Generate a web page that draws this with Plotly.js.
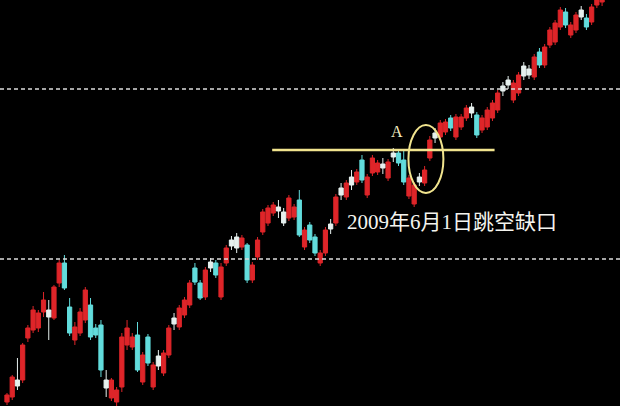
<!DOCTYPE html>
<html>
<head>
<meta charset="utf-8">
<script src="https://cdn.plot.ly/plotly-3.0.1.min.js"></script>
<style>html,body{margin:0;padding:0;background:#000;}#chart{width:620px;height:406px;}</style>
</head>
<body>
<div id="chart"></div>
<script>
// OHLC per trading day (relative price units)
const opens  = [4,9,20,26,68,76,78,94,89,88,123,143,99,66,73,86,101,78,81,18,8,4,19,61,59,71,24,69,19,40,33,51,82,79,91,101,138,123,109,138,143,109,143,160,158,159,161,126,149,174,183,193,195,183,188,189,206,159,181,169,143,153,177,183,211,209,221,224,246,211,233,234,238,228,249,253,246,210,202,224,223,248,268,269,274,288,269,279,288,293,291,276,279,288,296,315,321,306,313,330,331,329,354,341,361,364,379,394,371,376,389,388,384,401,404];
const highs  = [13,31,48,63,81,100,96,114,106,121,146,151,108,84,98,119,108,82,86,36,28,19,73,86,73,84,54,72,44,56,56,81,93,101,109,126,143,126,139,148,146,143,161,170,173,171,163,144,169,197,201,204,206,198,211,202,216,179,184,172,156,179,187,212,223,226,236,237,251,232,251,246,248,247,258,256,256,231,224,233,240,270,278,286,287,291,292,292,301,303,294,291,299,306,316,324,330,326,334,344,341,352,358,362,379,386,399,398,384,394,400,392,402,409,414];
const lows   = [1,6,16,23,64,73,74,89,66,86,119,116,70,61,70,83,66,68,29,9,5,0,14,56,56,34,21,40,16,36,30,48,76,76,88,98,121,106,106,134,128,106,140,156,153,156,123,123,146,171,180,190,188,180,185,186,169,156,163,150,140,150,172,180,206,206,216,221,223,208,230,231,232,225,244,240,221,207,199,220,220,245,263,266,271,275,266,276,285,288,268,273,276,285,293,310,317,303,310,326,327,326,338,338,358,361,376,378,368,373,386,376,381,398,400];
const closes = [11,29,26,61,78,96,93,106,96,119,143,118,73,79,94,116,69,71,36,26,26,16,69,78,69,36,51,43,41,50,53,78,88,98,106,123,124,108,136,144,131,139,158,166,169,168,126,141,166,194,198,201,199,194,208,199,171,176,166,153,153,176,182,209,218,223,229,234,226,229,248,243,242,244,253,243,224,228,221,229,236,266,273,283,284,278,289,289,298,299,271,288,296,303,313,320,326,323,331,340,337,349,341,359,376,383,396,381,381,391,396,379,399,406,411];
// days drawn as white (near-doji) candles
const whiteDays = [2,8,19,29,32,39,43,44,52,53,62,64,66,72,74,79,82,89,95,96,99,100,110];

const idx = opens.map((_, i) => i);
const mainX = [], mO = [], mH = [], mL = [], mC = [];
const whX = [], wO = [], wH = [], wL = [], wC = [];
idx.forEach(i => {
  if (whiteDays.includes(i)) { whX.push(i); wO.push(opens[i]); wH.push(highs[i]); wL.push(lows[i]); wC.push(closes[i]); }
  else { mainX.push(i); mO.push(opens[i]); mH.push(highs[i]); mL.push(lows[i]); mC.push(closes[i]); }
});

const RED = '#de2529', CYAN = '#62dcdc', WHITE = '#e6f0ee';
const traces = [
  {type:'candlestick', x: mainX, open: mO, high: mH, low: mL, close: mC,
   increasing:{line:{color:RED, width:1}, fillcolor:RED},
   decreasing:{line:{color:CYAN, width:1}, fillcolor:CYAN},
   whiskerwidth:0, hoverinfo:'skip'},
  {type:'candlestick', x: whX, open: wO, high: wH, low: wL, close: wC,
   increasing:{line:{color:WHITE, width:1}, fillcolor:WHITE},
   decreasing:{line:{color:WHITE, width:1}, fillcolor:WHITE},
   whiskerwidth:0, hoverinfo:'skip'}
];

const YEL = '#f1e48e';
const layout = {
  width:620, height:406,
  margin:{l:0,r:0,t:0,b:0},
  paper_bgcolor:'#000', plot_bgcolor:'#000',
  showlegend:false,
  boxgap:0.15, boxgroupgap:0.05,
  xaxis:{visible:false, range:[-1.34,117.43], rangeslider:{visible:false}, fixedrange:true},
  yaxis:{visible:false, range:[0,406], fixedrange:true},
  shapes:[
    {type:'line', xref:'paper', x0:0, x1:1, yref:'y', y0:317, y1:317, line:{color:'#dcdcdc', width:1.3, dash:'4px,3px'}},
    {type:'line', xref:'paper', x0:0, x1:1, yref:'y', y0:147, y1:147, line:{color:'#dcdcdc', width:1.3, dash:'4px,3px'}},
    {type:'line', xref:'x', x0:50.8, x1:93.4, yref:'y', y0:256, y1:256, line:{color:YEL, width:2.5}},
    {type:'circle', xref:'x', x0:76.9, x1:83.6, yref:'y', y0:213, y1:281, line:{color:YEL, width:2}}
  ],
  annotations:[
    {x:74.8, y:275, xref:'x', yref:'y', text:'A', showarrow:false,
     font:{family:'Liberation Serif, DejaVu Serif, serif', size:16, color:'#f3ecc0'}},
    {x:85.2, y:184, xref:'x', yref:'y', text:'2009年6月1日跳空缺口', showarrow:false,
     font:{family:'Liberation Serif, Noto Sans CJK SC, serif', size:21, color:'#f4f4ee'}}
  ]
};

Plotly.newPlot('chart', traces, layout, {staticPlot:true, displayModeBar:false});
</script>
</body>
</html>
